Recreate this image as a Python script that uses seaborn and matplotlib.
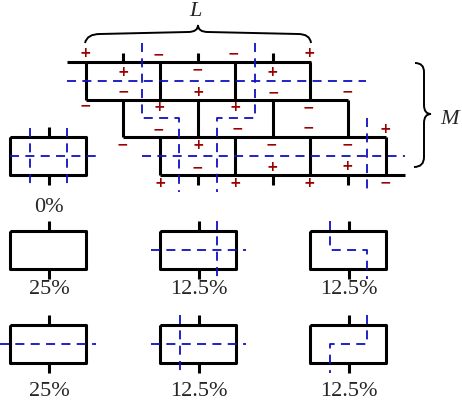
import matplotlib
matplotlib.use("Agg")
import matplotlib.pyplot as plt
from matplotlib.path import Path
from matplotlib.patches import PathPatch
import seaborn as sns

sns.set_style("white")
plt.rcParams['font.family'] = ['Liberation Serif', 'DejaVu Serif']

# ---- data ----
percent_labels = ["0%", "25%", "12.5%", "12.5%", "25%", "12.5%", "12.5%"]
brace_labels = ["L", "M"]
sign_marks = [
    ("+", 85, 53), ("+", 123, 72), ("−", 158, 54), ("−", 197, 69), ("−", 233, 53),
    ("+", 272, 72), ("+", 309, 53), ("−", 123, 91), ("+", 198, 92), ("−", 273, 92),
    ("−", 347, 91), ("−", 85, 105), ("+", 159, 107), ("+", 235, 107), ("−", 308, 107),
    ("−", 158, 129), ("−", 237, 128), ("−", 308, 127), ("+", 385, 129),
    ("−", 122, 144), ("+", 198, 145), ("−", 271, 144), ("−", 347, 144),
    ("−", 197, 167), ("+", 272, 167), ("+", 347, 166),
    ("+", 160, 183), ("+", 235, 183), ("+", 309, 183), ("−", 385, 182),
]
solid_lines = [
    [(67, 62), (311, 62)], [(86, 62), (86, 100)], [(160, 62), (160, 100)],
    [(235, 62), (235, 100)], [(310, 62), (310, 100)],
    [(123, 53), (123, 62)], [(198, 53), (198, 62)], [(273, 53), (273, 62)],
    [(86, 100), (348, 100)], [(123, 100), (123, 137)], [(198, 100), (198, 137)],
    [(273, 100), (273, 137)], [(348, 100), (348, 137)],
    [(123, 137), (386, 137)], [(160, 137), (160, 175)], [(235, 137), (235, 175)],
    [(310, 137), (310, 175)], [(386, 137), (386, 175)], [(160, 175), (405, 175)],
    [(198, 175), (198, 185)], [(273, 175), (273, 185)], [(348, 175), (348, 185)],
]
dashed_lines = [
    [(67, 81), (366, 81)], [(142, 156), (405, 156)],
    [(142, 43), (142, 118), (179, 118), (179, 192)],
    [(255, 43), (255, 118), (217, 118), (217, 192)],
    [(367, 118), (367, 192)],
]
box_x = [10, 10, 160, 310, 10, 160, 310]
box_y = [137, 231, 231, 231, 325, 325, 325]
box_dashes = [
    [[(0, 19), (86, 19)], [(20, -9), (20, 48)], [(57, -9), (57, 48)]],
    [],
    [[(-9, 19), (86, 19)], [(57, -10), (57, 48)]],
    [[(20, -10), (20, 19), (57, 19), (57, 48)]],
    [[(-10, 19), (86, 19)]],
    [[(-9, 19), (86, 19)], [(20, -10), (20, 48)]],
    [[(57, -10), (57, 19), (20, 19), (20, 48)]],
]
label_dy = [70, 59, 59, 59, 67, 67, 67]

fig = plt.figure(figsize=(4.62, 4.0), dpi=100)
ax = fig.add_axes([0, 0, 1, 1])
ax.set_xlim(0, 462)
ax.set_ylim(400, 0)
ax.axis("off")

blk = dict(color="black", lw=2.2, solid_capstyle="butt")
blu = dict(color="#1010c0", lw=1.3, dashes=(5, 3.5))

for seg in solid_lines:
    xs, ys = zip(*seg); ax.plot(xs, ys, **blk)
for seg in dashed_lines:
    xs, ys = zip(*seg); ax.plot(xs, ys, **blu)
for s, x, y in sign_marks:
    ax.text(x, y, s, color="#990000", fontsize=10, ha="center", va="center",
            family="DejaVu Sans", fontweight="bold")

for i, (bx, by) in enumerate(zip(box_x, box_y)):
    w, h = 76, 38
    ax.plot([bx, bx + w, bx + w, bx, bx], [by, by, by + h, by + h, by], **blk)
    ax.plot([bx + 39, bx + 39], [by - 10, by], **blk)
    ax.plot([bx + 39, bx + 39], [by + h, by + h + 10], **blk)
    for seg in box_dashes[i]:
        xs, ys = zip(*seg)
        ax.plot([bx + v for v in xs], [by + v for v in ys], **blu)
    ax.text(bx + 39, by + label_dy[i], percent_labels[i], fontsize=16,
            ha="center", va="center")

M, L, C = Path.MOVETO, Path.LINETO, Path.CURVE3
top = Path([(85, 43), (87, 34), (100, 34), (188, 32), (198, 32), (198, 25),
            (198, 32), (208, 32), (298, 34), (310, 34), (311, 43)],
           [M, C, C, L, C, C, C, C, L, C, C])
ax.add_patch(PathPatch(top, fill=False, lw=1.4, color="black"))
right = Path([(415, 63), (424, 63), (424, 72), (424, 105), (424, 114), (431, 114),
              (424, 114), (424, 123), (424, 157), (424, 167), (414, 167)],
             [M, C, C, L, C, C, C, C, L, C, C])
ax.add_patch(PathPatch(right, fill=False, lw=1.4, color="black"))
ax.text(195, 12, brace_labels[0], fontsize=16, style="italic", ha="center", va="center")
ax.text(450, 120, brace_labels[1], fontsize=16, style="italic", ha="center", va="center")

fig.savefig("out.png", dpi=100, facecolor="white")
